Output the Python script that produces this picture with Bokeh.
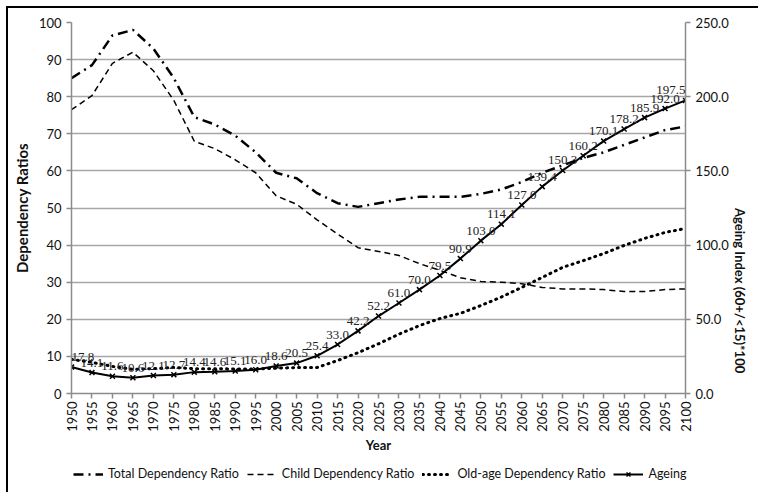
import math
from bokeh.plotting import figure
from bokeh.layouts import column
from bokeh.models import (Range1d, LinearAxis, FixedTicker, NumeralTickFormatter,
                          Legend, LegendItem, LabelSet, ColumnDataSource)
from bokeh.embed import file_html
from bokeh.resources import INLINE

years = list(range(1950, 2101, 5))
total = [85, 88.5, 96.5, 98, 93, 85, 74.5, 72.5, 69.5, 65, 59.5, 58, 54, 51.3, 50.3, 51.3,
         52.3, 53, 53, 53, 53.8, 55, 57, 59.5, 61.5, 63.5, 65, 67, 69, 71, 72]
child = [76.5, 80.3, 89, 92, 87, 79, 68, 66, 63, 59.5, 53.3, 51, 46.8, 43, 39.3, 38.3,
         37.2, 35, 33.2, 31.2, 30.2, 30, 29.6, 28.6, 28.2, 28.2, 28, 27.5, 27.5, 28, 28.2]
oldage = [9.2, 8.4, 7.3, 6.5, 6.7, 7.0, 6.7, 6.7, 6.6, 6.6, 6.8, 7.0, 7.0, 8.9, 11, 13.4,
          16, 18.3, 20.2, 21.6, 23.7, 26, 28.6, 31.3, 34, 35.8, 37.7, 39.9, 41.8, 43.4, 44.5]
ageing = [17.8, 14.1, 11.6, 10.6, 12.1, 12.7, 14.4, 14.6, 15.1, 16.0, 18.6, 20.5, 25.4,
          33.0, 42.2, 52.2, 61.0, 70.0, 79.5, 90.9, 103.0, 114.1, 127.0, 139.4, 150.3,
          160.2, 170.1, 178.2, 185.9, 192.0, 197.5]
left_ticks = list(range(0, 101, 10))
right_ticks = [0, 50, 100, 150, 200, 250]
right_title = "Ageing Index (60+/<15)*100"
series_names = ["Total Dependency Ratio", "Child Dependency Ratio",
                "Old-age Dependency Ratio", "Ageing Index"]

FONT = "Lato"
GRID = "#a6a6a6"
AX = "#8c8c8c"
TXT = "#111111"

STY = dict(
    total=dict(line_color="black", line_width=2.5, line_dash="10 5 2 5"),
    child=dict(line_color="black", line_width=1.5, line_dash="6 4"),
    old=dict(line_color="black", line_width=3, line_dash="1 5", line_cap="round"),
    age=dict(line_color="black", line_width=2),
    agem=dict(marker="x", size=7, line_color="black", line_width=1.5),
)

p = figure(frame_width=614, frame_height=371, output_backend="svg", toolbar_location=None,
           x_range=Range1d(1950, 2100), y_range=Range1d(0, 100),
           min_border_left=71, min_border_right=0, min_border_top=22, min_border_bottom=70)
p.extra_y_ranges = {"right": Range1d(0, 250)}
p.outline_line_color = None
p.background_fill_color = "white"
p.border_fill_color = None
p.styles = {"box-shadow": "inset 6px 6px 0 0 #ffffff, inset 8px 8px 0 0 #000000",
            "background-color": "white"}

p.xgrid.visible = False
p.ygrid.ticker = FixedTicker(ticks=left_ticks)
p.ygrid.grid_line_color = GRID
p.ygrid.grid_line_width = 1.5

# lines
p.line(years, total, **STY["total"])
p.line(years, child, **STY["child"])
p.line(years, oldage, **STY["old"])
p.line(years, ageing, y_range_name="right", **STY["age"])
p.scatter(years, ageing, y_range_name="right", **STY["agem"])

n = len(years)
aligns = ["left"] + ["center"] * (n - 2) + ["right"]
src = ColumnDataSource(dict(x=years, y=ageing, t=[f"{v:.1f}" for v in ageing], a=aligns))
labels = LabelSet(x="x", y="y", text="t", source=src, y_range_name="right",
                  text_align="a", text_baseline="bottom", y_offset=6,
                  text_font=FONT, text_font_size="13px", text_color="#222222")
p.add_layout(labels)

# axes
for ax in (p.xaxis[0], p.yaxis[0]):
    ax.axis_line_color = AX
    ax.axis_line_width = 1.5
    ax.major_tick_line_color = AX
    ax.major_tick_line_width = 1.5
    ax.major_tick_out = 5
    ax.major_tick_in = 0
    ax.minor_tick_line_color = None
    ax.major_label_text_font = FONT
    ax.major_label_text_font_size = "13px"
    ax.major_label_text_color = TXT
    ax.axis_label_text_font = FONT
    ax.axis_label_text_font_style = "bold"
    ax.axis_label_text_font_size = "13px"
    ax.axis_label_text_color = TXT

p.xaxis[0].ticker = FixedTicker(ticks=years)
p.xaxis[0].major_label_orientation = math.pi / 2
p.xaxis[0].major_label_standoff = 3
p.xaxis[0].axis_label = "Year"
p.xaxis[0].axis_label_standoff = 2
p.yaxis[0].ticker = FixedTicker(ticks=left_ticks)
p.yaxis[0].axis_label = "Dependency Ratios"
p.yaxis[0].axis_label_text_font_size = "15px"

rax = LinearAxis(y_range_name="right", ticker=FixedTicker(ticks=right_ticks),
                 formatter=NumeralTickFormatter(format="0.0"))
rax.axis_line_color = AX
rax.axis_line_width = 1.5
rax.major_tick_line_color = AX
rax.major_tick_line_width = 1.5
rax.major_tick_out = 5
rax.major_tick_in = 0
rax.minor_tick_line_color = None
rax.major_label_text_font = FONT
rax.major_label_text_font_size = "13px"
rax.major_label_text_color = TXT
p.add_layout(rax, "right")

# right-hand title, written as a single rotated label of an extra axis
tax = LinearAxis(y_range_name="right", ticker=FixedTicker(ticks=[125]),
                 major_label_overrides={125: right_title})
tax.axis_line_color = None
tax.major_tick_line_color = None
tax.minor_tick_line_color = None
tax.major_label_orientation = -math.pi / 2
tax.major_label_standoff = 2
tax.major_label_text_font = FONT
tax.major_label_text_font_style = "bold"
tax.major_label_text_font_size = "13px"
tax.major_label_text_color = TXT
p.add_layout(tax, "right")

# legend strip below the chart (its own series are drawn outside its visible range)
lf = figure(width=761, height=29, output_backend="svg", toolbar_location=None,
            x_range=Range1d(0, 1), y_range=Range1d(0, 1),
            min_border_left=0, min_border_right=0, min_border_top=0, min_border_bottom=0)
lf.axis.visible = False
lf.grid.visible = False
lf.outline_line_color = None
lf.background_fill_color = None
lf.border_fill_color = None
lf.styles = {"box-shadow": "inset 6px 0 0 0 #ffffff, inset 8px 0 0 0 #000000",
             "background-color": "white"}
g_total = lf.line(years, total, **STY["total"])
g_child = lf.line(years, child, **STY["child"])
g_old = lf.line(years, oldage, **STY["old"])
g_age = lf.line(years, ageing, **STY["age"])
g_agem = lf.scatter(years, ageing, **STY["agem"])

legend = Legend(items=[
    LegendItem(label=series_names[0], renderers=[g_total]),
    LegendItem(label=series_names[1], renderers=[g_child]),
    LegendItem(label=series_names[2], renderers=[g_old]),
    LegendItem(label=series_names[3], renderers=[g_age, g_agem]),
], orientation="horizontal", location=(2, 11))
legend.label_text_font = FONT
legend.label_text_font_size = "12.5px"
legend.label_text_color = TXT
legend.glyph_width = 30
legend.glyph_height = 14
legend.label_height = 14
legend.label_standoff = 5
legend.spacing = 8
legend.padding = 0
legend.margin = 0
legend.border_line_color = None
legend.background_fill_alpha = 0
lf.add_layout(legend, "center")

page = column(p, lf, spacing=0)
open("out.html", "w").write(file_html(page, INLINE))
